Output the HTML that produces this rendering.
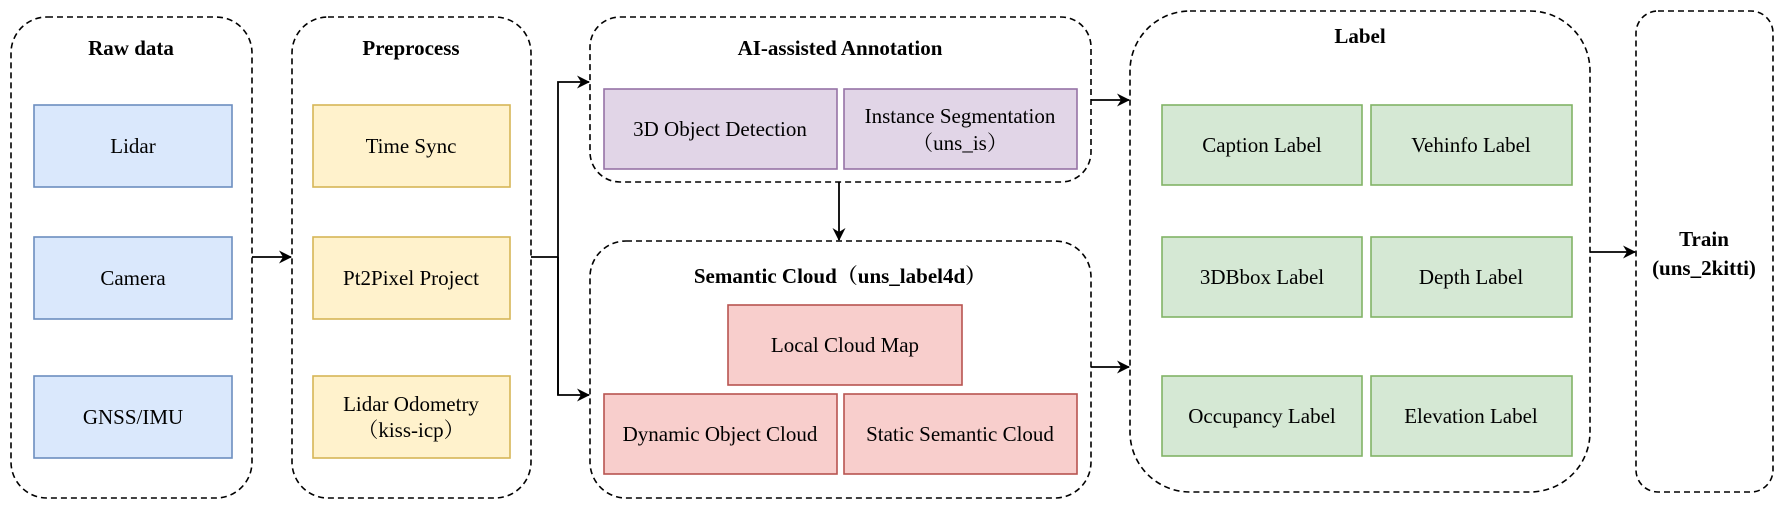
<!DOCTYPE html>
<html><head><meta charset="utf-8"><style>
html,body{margin:0;padding:0;background:#fff;}
svg{display:block;font-family:"Liberation Serif","Noto Serif CJK SC",serif;}
.t{font-size:21px;text-anchor:middle;dominant-baseline:central;fill:#000;}
.b{font-weight:bold;}
.g{fill:none;stroke:#000;stroke-width:1.6;stroke-dasharray:6,4;}
</style></head><body>
<svg width="1786" height="508" viewBox="0 0 1786 508">
<defs><marker id="a" markerWidth="13" markerHeight="13" refX="12" refY="6.5" orient="auto" markerUnits="userSpaceOnUse"><path d="M0,0 L13,6.5 L0,13 L4,6.5 Z" fill="#000"/></marker></defs>
<rect class="g" x="11" y="17" width="241" height="481" rx="36"/>
<rect class="g" x="292" y="17" width="239" height="481" rx="36"/>
<rect class="g" x="590" y="17" width="501" height="165" rx="30"/>
<rect class="g" x="590" y="241" width="501" height="257" rx="36"/>
<rect class="g" x="1130" y="11" width="460" height="481" rx="60"/>
<rect class="g" x="1636" y="11" width="137" height="481" rx="22"/>
<text class="t b" x="131" y="48">Raw data</text>
<text class="t b" x="411" y="48">Preprocess</text>
<text class="t b" x="840" y="48">AI-assisted Annotation</text>
<text class="t b" x="840" y="276">Semantic Cloud（uns_label4d）</text>
<text class="t b" x="1360" y="36">Label</text>
<text class="t b" x="1704" y="239">Train</text>
<text class="t b" x="1704" y="268">(uns_2kitti)</text>
<g stroke="#6c8ebf" stroke-width="1.6" fill="#dae8fc">
<rect x="34" y="105" width="198" height="82"/><rect x="34" y="237" width="198" height="82"/><rect x="34" y="376" width="198" height="82"/></g>
<text class="t" x="133" y="146">Lidar</text><text class="t" x="133" y="278">Camera</text><text class="t" x="133" y="417">GNSS/IMU</text>
<g stroke="#d6b656" stroke-width="1.6" fill="#fff2cc">
<rect x="313" y="105" width="197" height="82"/><rect x="313" y="237" width="197" height="82"/><rect x="313" y="376" width="197" height="82"/></g>
<text class="t" x="411" y="146">Time Sync</text><text class="t" x="411" y="278">Pt2Pixel Project</text>
<text class="t" x="411" y="404">Lidar Odometry</text><text class="t" x="411" y="430">（kiss-icp）</text>
<g stroke="#9673a6" stroke-width="1.6" fill="#e1d5e7">
<rect x="604" y="89" width="233" height="80"/><rect x="844" y="89" width="233" height="80"/></g>
<text class="t" x="720" y="129">3D Object Detection</text>
<text class="t" x="960" y="116">Instance Segmentation</text><text class="t" x="960" y="143">（uns_is）</text>
<g stroke="#b85450" stroke-width="1.6" fill="#f8cecc">
<rect x="728" y="305" width="234" height="80"/><rect x="604" y="394" width="233" height="80"/><rect x="844" y="394" width="233" height="80"/></g>
<text class="t" x="845" y="345">Local Cloud Map</text>
<text class="t" x="720" y="434">Dynamic Object Cloud</text><text class="t" x="960" y="434">Static Semantic Cloud</text>
<g stroke="#82b366" stroke-width="1.6" fill="#d5e8d4">
<rect x="1162" y="105" width="200" height="80"/><rect x="1371" y="105" width="201" height="80"/>
<rect x="1162" y="237" width="200" height="80"/><rect x="1371" y="237" width="201" height="80"/>
<rect x="1162" y="376" width="200" height="80"/><rect x="1371" y="376" width="201" height="80"/></g>
<text class="t" x="1262" y="145">Caption Label</text><text class="t" x="1471" y="145">Vehinfo Label</text>
<text class="t" x="1262" y="277">3DBbox Label</text><text class="t" x="1471" y="277">Depth Label</text>
<text class="t" x="1262" y="416">Occupancy Label</text><text class="t" x="1471" y="416">Elevation Label</text>
<g stroke="#000" stroke-width="1.8" fill="none">
<line x1="252" y1="257" x2="291" y2="257" marker-end="url(#a)"/>
<polyline points="531,257 558,257"/>
<polyline points="558,395 558,82 589,82" marker-end="url(#a)"/>
<polyline points="558,257 558,395 589,395" marker-end="url(#a)"/>
<line x1="839" y1="182" x2="839" y2="240" marker-end="url(#a)"/>
<line x1="1091" y1="100" x2="1129" y2="100" marker-end="url(#a)"/>
<line x1="1091" y1="367" x2="1129" y2="367" marker-end="url(#a)"/>
<line x1="1590" y1="252" x2="1635" y2="252" marker-end="url(#a)"/>
</g>
</svg>
</body></html>
